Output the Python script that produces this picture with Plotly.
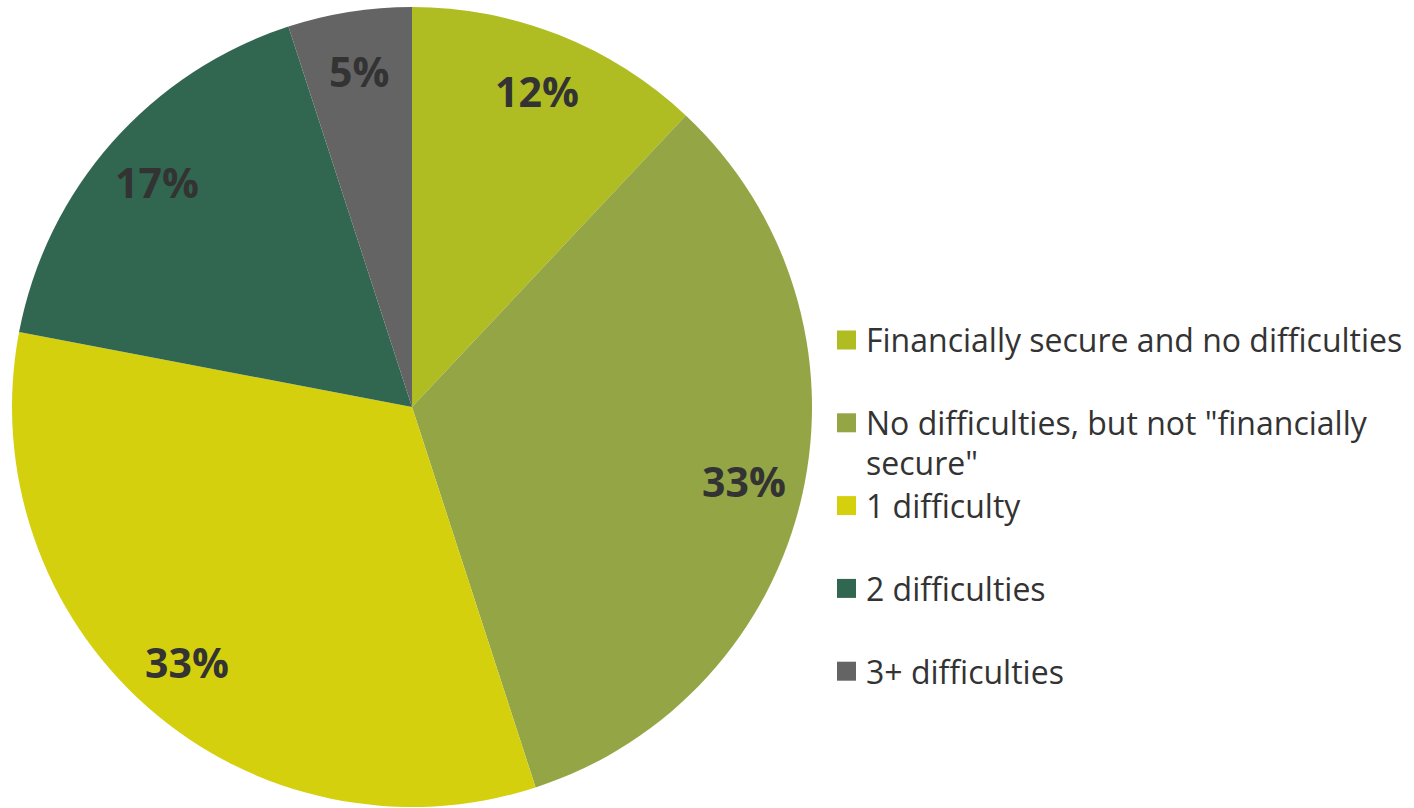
import math
import plotly.graph_objects as go

# Share of respondents by number of financial difficulties
labels = [
    "Financially secure and no difficulties",
    'No difficulties, but not "financially<br>secure"',
    "1 difficulty",
    "2 difficulties",
    "3+ difficulties",
]
values = [12, 33, 33, 17, 5]
colors = ["#AFBD22", "#94A545", "#D5D00E", "#316650", "#646464"]

W, H = 1414, 808
CX, CY, R = 412, 407, 400          # pie centre and radius in pixels
LABEL_R = 0.85                      # radial position of the percentage labels
FONT = "Open Sans"
TEXT_COLOR = "#333333"

fig = go.Figure(
    go.Pie(
        labels=labels,
        values=values,
        sort=False,
        direction="clockwise",
        rotation=0,
        marker=dict(colors=colors, line=dict(width=0)),
        textinfo="none",
        hoverinfo="label+percent",
        showlegend=False,
        domain=dict(x=[(CX - R) / W, (CX + R) / W], y=[1 - (CY + R) / H, 1 - (CY - R) / H]),
    )
)

annotations = []
shapes = []

# Percentage labels at the middle angle of each slice
total = sum(values)
cum = 0
for v in values:
    mid = (cum + v / 2) / total * 2 * math.pi
    cum += v
    px = CX + LABEL_R * R * math.sin(mid)
    py = CY - LABEL_R * R * math.cos(mid)
    annotations.append(dict(
        x=px / W, y=1 - py / H, xref="paper", yref="paper",
        text=f"<b>{v}%</b>", showarrow=False,
        xanchor="center", yanchor="middle",
        font=dict(family=FONT, size=41, color=TEXT_COLOR),
    ))

# Legend: coloured squares with wrapped labels
LEG_X, LEG_Y0, LEG_STEP, LINE_H, SQ = 837, 340, 82.8, 40, 19
for i, (lab, col) in enumerate(zip(labels, colors)):
    yc = LEG_Y0 + i * LEG_STEP
    shapes.append(dict(
        type="rect", xref="paper", yref="paper",
        x0=LEG_X / W, x1=(LEG_X + SQ) / W,
        y0=1 - (yc + SQ / 2) / H, y1=1 - (yc - SQ / 2) / H,
        fillcolor=col, line=dict(width=0),
    ))
    for j, line in enumerate(lab.split("<br>")):
        annotations.append(dict(
            x=(LEG_X + SQ + 8) / W, y=1 - (yc + j * LINE_H) / H,
            xref="paper", yref="paper",
            text=line, showarrow=False,
            xanchor="left", yanchor="middle",
            font=dict(family=FONT, size=32, color=TEXT_COLOR),
        ))

fig.update_layout(
    width=W, height=H,
    margin=dict(l=0, r=0, t=0, b=0),
    paper_bgcolor="white",
    plot_bgcolor="white",
    annotations=annotations,
    shapes=shapes,
)

fig.write_html("out.html")
